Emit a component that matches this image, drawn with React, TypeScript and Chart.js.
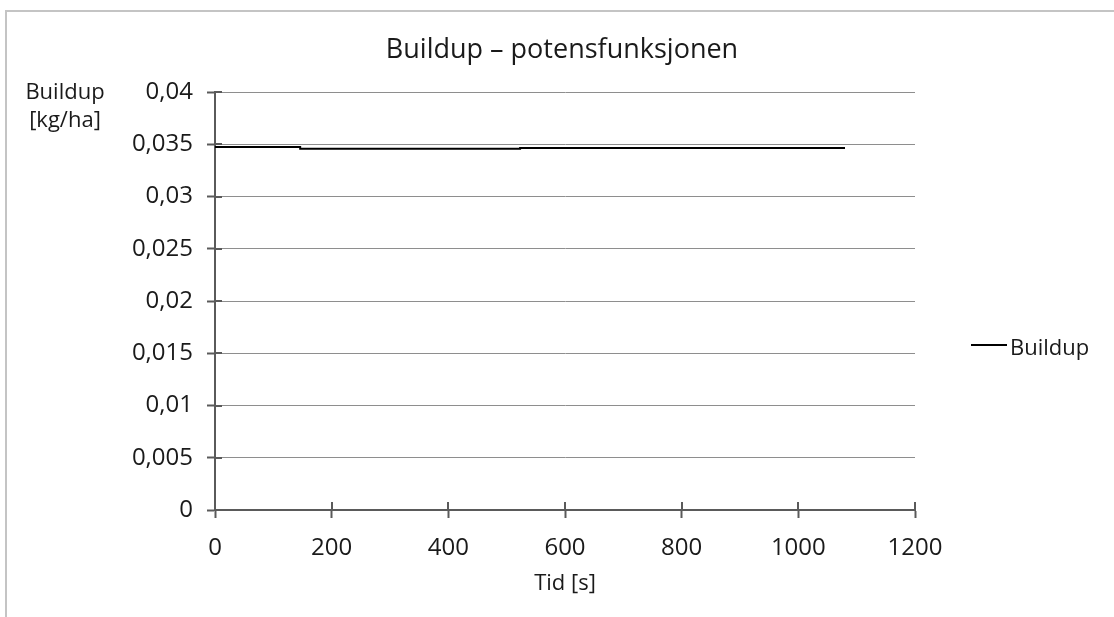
import React, { useEffect, useRef } from "react";
import { Chart, registerables } from "chart.js";

Chart.register(...registerables);

// Data
const chartTitle = "Buildup – potensfunksjonen";
const yTitleLines = ["Buildup", "[kg/ha]"];
const xTitle = "Tid [s]";
const seriesName = "Buildup";
const timeSeconds = [0, 146, 146, 523, 523, 1080];
const buildupValues = [0.03474, 0.03474, 0.03456, 0.03456, 0.03465, 0.03465];
const yMin = 0;
const yMax = 0.04;
const yStep = 0.005;
const xMin = 0;
const xMax = 1200;
const xStep = 200;

const FONT = "'Open Sans', 'DejaVu Sans', sans-serif";
const TEXT = "#1a1a1a";
const AXIS = "#5a5a5a";
const GRID = "#8e8e8e";

const fmt = (v: number) => {
  const r = Number(Number(v).toFixed(4));
  return String(r).replace(".", ",");
};

const decorPlugin = {
  id: "decor",
  beforeDraw(chart: any) {
    const ctx = chart.ctx;
    ctx.save();
    ctx.fillStyle = "#ffffff";
    ctx.fillRect(0, 0, chart.width, chart.height);
    ctx.strokeStyle = "#c4c4c4";
    ctx.lineWidth = 2;
    ctx.beginPath();
    ctx.moveTo(6, chart.height);
    ctx.lineTo(6, 11);
    ctx.lineTo(chart.width, 11);
    ctx.stroke();
    ctx.restore();
  },
  afterDraw(chart: any) {
    const ctx = chart.ctx;
    const xs = chart.scales.x;
    const ys = chart.scales.y;
    ctx.save();
    // inner halves of the crossing tick marks
    ctx.strokeStyle = AXIS;
    ctx.lineWidth = 2;
    ctx.beginPath();
    ys.ticks.forEach((t: any) => {
      const py = Math.round(ys.getPixelForValue(t.value));
      ctx.moveTo(xs.left, py);
      ctx.lineTo(xs.left + 7, py);
    });
    xs.ticks.forEach((t: any) => {
      const px = Math.round(xs.getPixelForValue(t.value));
      ctx.moveTo(px, ys.bottom);
      ctx.lineTo(px, ys.bottom - 8);
    });
    ctx.stroke();

    ctx.fillStyle = TEXT;
    // chart title
    ctx.font = `27px ${FONT}`;
    ctx.textAlign = "center";
    ctx.textBaseline = "alphabetic";
    ctx.fillText(chartTitle, 562, 58);
    // y axis title (horizontal, two lines)
    ctx.font = `22px ${FONT}`;
    ctx.fillText(yTitleLines[0], 65, 99);
    ctx.fillText(yTitleLines[1], 65, 127);
    // x axis title
    ctx.fillText(xTitle, 565, 590);
    // legend
    ctx.strokeStyle = "#000";
    ctx.lineWidth = 2;
    ctx.beginPath();
    ctx.moveTo(971, 345);
    ctx.lineTo(1007, 345);
    ctx.stroke();
    ctx.textAlign = "left";
    ctx.fillText(seriesName, 1010, 355);
    ctx.restore();
  },
};

export default function App() {
  const canvasRef = useRef<HTMLCanvasElement | null>(null);

  useEffect(() => {
    if (!canvasRef.current) return;
    const points = timeSeconds.map((t, i) => ({ x: t, y: buildupValues[i] }));
    const chart = new Chart(canvasRef.current, {
      type: "line",
      data: {
        datasets: [
          {
            label: seriesName,
            data: points,
            borderColor: "#000000",
            borderWidth: 2,
            pointRadius: 0,
            tension: 0,
            fill: false,
          },
        ],
      },
      options: {
        responsive: false,
        animation: false,
        devicePixelRatio: 1,
        layout: { padding: { left: 0, top: 92, right: 199, bottom: 0 } },
        plugins: {
          legend: { display: false },
          title: { display: false },
          tooltip: { enabled: false },
        },
        scales: {
          x: {
            type: "linear",
            min: xMin,
            max: xMax,
            afterFit: (s: any) => {
              s.height = 107;
            },
            ticks: {
              stepSize: xStep,
              color: TEXT,
              font: { family: FONT, size: 24 },
              padding: 16,
              maxRotation: 0,
              callback: (v: any) => String(v),
            },
            grid: {
              display: true,
              drawOnChartArea: false,
              drawTicks: true,
              tickLength: 8,
              tickColor: AXIS,
              tickWidth: 2,
            },
            border: { display: true, color: AXIS, width: 2 },
          },
          y: {
            type: "linear",
            min: yMin,
            max: yMax,
            afterFit: (s: any) => {
              s.width = 215;
            },
            ticks: {
              stepSize: yStep,
              color: TEXT,
              font: { family: FONT, size: 24 },
              padding: 14,
              callback: (v: any) => fmt(v),
            },
            grid: {
              color: GRID,
              lineWidth: 1,
              drawTicks: true,
              tickLength: 8,
              tickColor: AXIS,
              tickWidth: 2,
            },
            border: { display: true, color: AXIS, width: 2 },
          },
        },
      },
      plugins: [decorPlugin],
    });
    return () => chart.destroy();
  }, []);

  return (
    <div style={{ position: "absolute", left: 0, top: 0, width: 1114, height: 617 }}>
      <canvas
        ref={canvasRef}
        width={1114}
        height={617}
        style={{ display: "block", width: 1114, height: 617 }}
      />
    </div>
  );
}
